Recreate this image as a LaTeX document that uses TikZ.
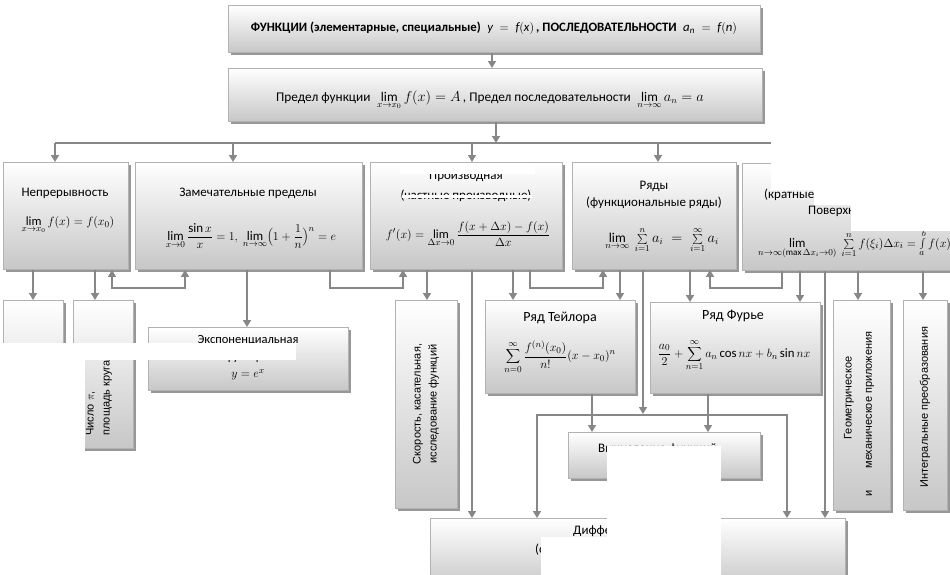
\documentclass[tikz,border=0pt]{standalone}
\usepackage{fontspec}
\setmainfont{Carlito}
\newfontfamily\arialf{Liberation Sans}
\usetikzlibrary{arrows.meta,shadows}
\begin{document}
\begin{tikzpicture}[x=1pt,y=-1pt,
  box/.style={draw=black!30, line width=0.9pt, top color=white, bottom color=black!22,
    drop shadow={shadow xshift=2.5pt,shadow yshift=-3pt,fill=black!45,opacity=0.9},
    anchor=north west, inner sep=0pt},
  arr/.style={draw=black!47, line width=1.5pt, -{Triangle[width=8pt,length=7pt]}},
  ln/.style={draw=black!47, line width=1.5pt},
  dbl/.style={draw=black!47, line width=1.5pt, {Triangle[width=8pt,length=7pt]}-{Triangle[width=8pt,length=7pt]}},
  txt/.style={font=\fontsize{13}{15}\selectfont, align=center, inner sep=0pt},
  mth/.style={font=\fontsize{12.5}{15}\selectfont, align=center, inner sep=0pt},
  rtxt/.style={font=\arialf\fontsize{11}{16}\selectfont, align=center, inner sep=0pt, rotate=90},
  wt/.style={fill=white, draw=none}]
\useasboundingbox (0,0) rectangle (950,574);
\fill[white] (0,0) rectangle (950,574);
% boxes
\node[box, minimum width=532pt, minimum height=47pt] (T) at (228,5) {};
\node[box, minimum width=534pt, minimum height=53pt] (P) at (228,68) {};
\node[box, minimum width=125pt, minimum height=107pt] (B1) at (3,162) {};
\node[box, minimum width=227pt, minimum height=107pt] (B2) at (135,162) {};
\node[box, minimum width=192pt, minimum height=107pt] (B3) at (370,162) {};
\node[box, minimum width=164pt, minimum height=107pt] (B4) at (572,162) {};
\node[box, minimum width=250pt, minimum height=107pt] (B5) at (742,163) {};
\node[box, minimum width=60pt, minimum height=150pt] (S1) at (3,300) {};
\node[box, minimum width=60pt, minimum height=148pt] (S2) at (73,300) {};
\node[box, minimum width=200pt, minimum height=63pt] (E) at (148,327) {};
\node[box, minimum width=62pt, minimum height=208pt] (V) at (395,300) {};
\node[box, minimum width=150pt, minimum height=93pt] (TL) at (485,300) {};
\node[box, minimum width=170pt, minimum height=91pt] (F) at (650,302) {};
\node[box, minimum width=57pt, minimum height=210pt] (G) at (833,300) {};
\node[box, minimum width=44pt, minimum height=210pt] (I) at (903,300) {};
\node[box, minimum width=192pt, minimum height=46pt] (C) at (568,432) {};
\node[box, minimum width=415pt, minimum height=70pt] (D) at (430,518) {};
% texts
\node[txt, font=\fontsize{12.8}{15}\selectfont\bfseries] (Tt) at (494,28)
  {ФУНКЦИИ (элементарные, специальные)\enspace $\mathit{y\;=\;f(x)}$\,, ПОСЛЕДОВАТЕЛЬНОСТИ\enspace $\mathit{a_n\;=\;f(n)}$};
\node[txt, font=\fontsize{13.3}{15}\selectfont] (Pt) at (490,100)
  {Предел функции\enspace $\lim\limits_{x\to x_0} f(x)=A$\,, Предел последовательности\enspace $\lim\limits_{n\to\infty} a_n=a$};
\node[txt] (B1t) at (65,193) {Непрерывность};
\node[mth] (B1f) at (68,225) {$\lim\limits_{x\to x_0} f(x)=f(x_0)$};
\node[txt] (B2t) at (248,193) {Замечательные пределы};
\node[mth, font=\fontsize{13}{15}\selectfont] (B2f) at (251,236) {$\displaystyle\lim_{x\to 0}\frac{\sin x}{x}=1,\ \lim_{n\to\infty}\Bigl(1+\frac{1}{n}\Bigr)^{n}=e$};
\node[txt] (B3t) at (466,176) {Производная};
\node[txt] (B3s) at (466,196) {(частные производные)};
\node[mth] (B3f) at (468,234) {$\displaystyle f'(x)=\lim_{\Delta x\to0}\frac{f(x+\Delta x)-f(x)}{\Delta x}$};
\node[txt] (B4t) at (654,186) {Ряды};
\node[txt] (B4s) at (654,203) {(функциональные ряды)};
\node[mth, font=\fontsize{13.5}{15}\selectfont] (B4f) at (662,240) {$\lim\limits_{n\to\infty}\ \sum\limits_{i=1}^{n}a_i\;=\;\sum\limits_{i=1}^{\infty}a_i$};
\node[txt] (B5t) at (846,178) {Интегралы};
\node[txt, anchor=west] (B5s) at (764,195) {(кратные, криволинейные,};
\node[txt, anchor=west] (B5u) at (808,211) {Поверхностные)};
\node[mth, font=\fontsize{13}{15}\selectfont, anchor=west] (B5f) at (758,244) {$\lim\limits_{n\to\infty(\max\Delta x_i\to0)}\ \sum\limits_{i=1}^{n} f(\xi_i)\Delta x_i=\int\limits_a^b f(x)\,dx$};
\node[rtxt, align=left] (S2t) at (99,398) {Число $\pi$,\\площадь круга};
\node[txt, font=\fontsize{12.5}{17}\selectfont] (Et) at (248,358) {Экспоненциальная\\функция\\$y=e^x$};
\node[rtxt] (Vt) at (426,404) {Скорость, касательная,\\исследование функций};
\node[txt, font=\fontsize{14}{16}\selectfont] (TLt) at (560,318) {Ряд Тейлора};
\node[mth, font=\fontsize{13}{15}\selectfont] (TLf) at (560,357) {$\displaystyle\sum_{n=0}^{\infty}\frac{f^{(n)}(x_0)}{n!}(x-x_0)^n$};
\node[txt, font=\fontsize{14}{16}\selectfont] (Ft) at (733,316) {Ряд Фурье};
\node[mth, font=\fontsize{12.8}{15}\selectfont] (Ff) at (734,355) {$\displaystyle\frac{a_0}{2}+\sum_{n=1}^{\infty}a_n\cos nx+b_n\sin nx$};
\node[rtxt] (Gt1) at (849,398) {Геометрическое};
\node[rtxt] (Gt2) at (870,414) {и\qquad механическое приложения};
\node[rtxt] (It) at (925,407) {Интегральные преобразования};
\node[txt, anchor=west] (Ct) at (598,449) {Вычисление функций,};
\node[txt, anchor=west] (Dt) at (573,531) {Дифференциальные};
\node[txt, anchor=west] (Ds) at (535,550) {(обыкновенные};
% connectors
\coordinate (hub) at (496,143);
\coordinate (hubL) at (55,143);
\coordinate (hubR) at (960,143);
\coordinate (brL) at (537,415);
\coordinate (brR) at (787,415);
\draw[arr] (492,0 |- T.south) -- (492,0 |- P.north);
\draw[arr] (496,0 |- P.south) -- (hub);
\draw[ln] (hubL) -- (hubR);
\draw[arr] (hubL) -- (55,0 |- B1.north);
\draw[arr] (233,143) -- (233,0 |- B2.north);
\draw[arr] (472,143) -- (472,0 |- B3.north);
\draw[arr] (658,143) -- (658,0 |- B4.north);
\draw[arr] (846,143) -- (846,0 |- B5.north);
\draw[dbl] (112,0 |- B1.south) -- (112,288) -- (185,288) -- (185,0 |- B2.south);
\draw[arr] (330,0 |- B2.south) -- (330,288) -- (403,288) -- (403,0 |- B3.south);
\draw[arr] (530,0 |- B3.south) -- (530,288) -- (603,288) -- (603,0 |- B4.south);
\draw[arr] (782,0 |- B5.south) -- (782,288) -- (710,288) -- (710,0 |- B4.south);
\draw[arr] (33,0 |- B1.south) -- (33,0 |- S1.north);
\draw[arr] (95,0 |- B1.south) -- (95,0 |- S2.north);
\draw[arr] (247,0 |- B2.south) -- (247,0 |- E.north);
\draw[arr] (427,0 |- B3.south) -- (427,0 |- V.north);
\draw[arr] (472,0 |- B3.south) -- (472,0 |- D.north);
\draw[arr] (513,0 |- B3.south) -- (513,0 |- TL.north);
\draw[arr] (620,0 |- B4.south) -- (620,0 |- TL.north);
\draw[arr] (643,0 |- B4.south) -- (643,414);
\draw[arr] (690,0 |- B4.south) -- (690,0 |- F.north);
\draw[arr] (800,0 |- B5.south) -- (800,0 |- F.north);
\draw[arr] (825,0 |- B5.south) -- (825,0 |- D.north);
\draw[arr] (858,0 |- B5.south) -- (858,0 |- G.north);
\draw[arr] (923,0 |- B5.south) -- (923,0 |- I.north);
\draw[arr] (592,0 |- TL.south) -- (592,0 |- C.north);
\draw[arr] (708,0 |- F.south) -- (708,0 |- C.north);
\draw[dbl] (537,0 |- D.north) -- (brL) -- (brR) -- (787,0 |- D.north);
% occluded regions of the reference
\fill[wt] (771,138) rectangle (951,190);
\fill[wt] (814,138) rectangle (951,205);
\fill[wt] (851,138) rectangle (951,231);
\fill[wt] (400,164) rectangle (535,173.5);
\fill[wt] (402,194.5) rectangle (532,198);
\fill[wt] (0,343) rectangle (296,360);
\fill[wt] (0,343) rectangle (85,580);
\fill[wt] (607,446) rectangle (721,580);
\fill[wt] (541,537) rectangle (721,580);
\end{tikzpicture}
\end{document}
